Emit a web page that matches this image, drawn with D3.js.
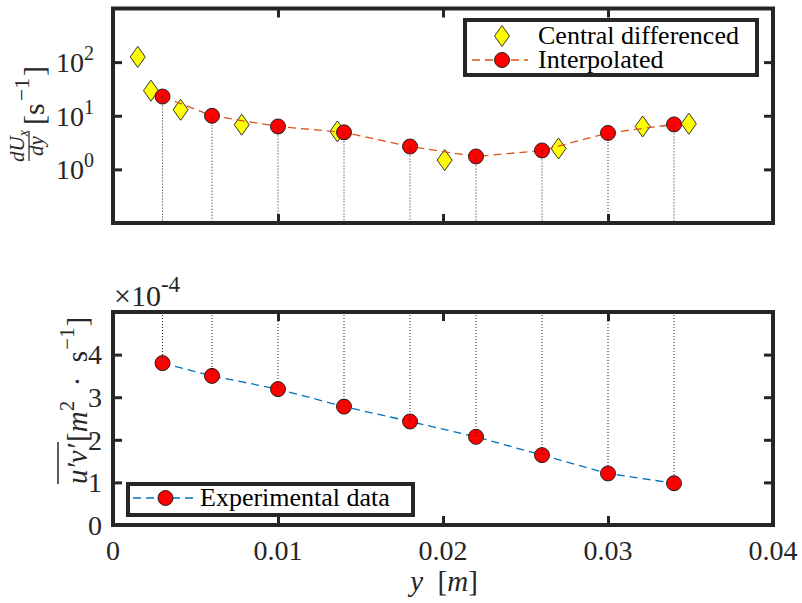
<!DOCTYPE html>
<html><head><meta charset="utf-8">
<script src="https://cdn.jsdelivr.net/npm/d3@7"></script>
<style>
body{margin:0;background:#fff}
svg{display:block;font-family:"Liberation Serif","Times New Roman",serif}
</style>
</head><body><script>
// Wall-normal positions of the interpolated / measured stations [m]
const stations = [0.003, 0.006, 0.010, 0.014, 0.018, 0.022, 0.026, 0.030, 0.034];
// Interpolated velocity gradient dUx/dy at the stations [1/s]
const gradInterp = [22.8, 10.0, 6.3, 4.9, 2.67, 1.74, 2.25, 4.78, 6.9];
// Central-difference nodes [m] and gradient values [1/s]
const cdPos = [0.0015, 0.0023, 0.0041, 0.0078, 0.0136, 0.0201, 0.0270, 0.0321, 0.0349];
const gradCentral = [125, 29.4, 12.9, 6.8, 5.1, 1.49, 2.45, 6.3, 7.1];
// Reynolds shear stress u'v' at the stations [m^2 s^-1]
const shear = [3.80e-4, 3.50e-4, 3.19e-4, 2.78e-4, 2.43e-4, 2.07e-4, 1.64e-4, 1.21e-4, 0.98e-4];

// Tick values and labels
const xTicks = [0, 0.01, 0.02, 0.03, 0.04];
const xTickLabels = ["0", "0.01", "0.02", "0.03", "0.04"];
const gradTicks = [1, 10, 100];
const gradTickExp = ["0", "1", "2"];
const shearTicks = [0, 1e-4, 2e-4, 3e-4, 4e-4];
const shearTickLabels = ["0", "1", "2", "3", "4"];

const W = 802, H = 603;
const INK = "#262626";
const ORANGE = "#D95319", BLUE = "#0072BD";

const svg = d3.select("body").append("svg").attr("width", W).attr("height", H);

const x = d3.scaleLinear().domain([0, 0.04]).range([113, 773]);
const yGrad = d3.scaleLog().domain([0.1, 1000]).range([223, 8.5]);
const yShear = d3.scaleLinear().domain([0, 5e-4]).range([525, 312]);

const diamond = "M0,-10.5L7.5,0L0,10.5L-7.5,0Z";

function ticks(gAxis) {
  gAxis.select(".domain").remove();
  gAxis.selectAll(".tick line").attr("stroke", INK).attr("stroke-width", 3);
  gAxis.selectAll(".tick text").remove();
}

function panelTicks(yScale, yVals, top, bottom) {
  const g = svg.append("g");
  g.append("g").attr("transform", `translate(0,${bottom})`)
    .call(d3.axisBottom(x).tickValues(xTicks).tickSizeInner(-9).tickSizeOuter(0)).call(ticks);
  g.append("g").attr("transform", `translate(0,${top})`)
    .call(d3.axisTop(x).tickValues(xTicks).tickSizeInner(-9).tickSizeOuter(0)).call(ticks);
  g.append("g").attr("transform", `translate(${x.range()[0]},0)`)
    .call(d3.axisLeft(yScale).tickValues(yVals).tickSizeInner(-9).tickSizeOuter(0)).call(ticks);
  g.append("g").attr("transform", `translate(${x.range()[1]},0)`)
    .call(d3.axisRight(yScale).tickValues(yVals).tickSizeInner(-9).tickSizeOuter(0)).call(ticks);
  g.append("rect")
    .attr("x", x.range()[0]).attr("y", top)
    .attr("width", x.range()[1] - x.range()[0]).attr("height", bottom - top)
    .attr("fill", "none").attr("stroke", INK).attr("stroke-width", 4);
}

/* ---------- upper panel: velocity gradient ---------- */
const top1 = yGrad.range()[1], bot1 = yGrad.range()[0];
const up = svg.append("g");

up.selectAll("path.cd").data(cdPos).join("path")
  .attr("class", "cd")
  .attr("d", diamond)
  .attr("transform", (d, i) => `translate(${x(d)},${yGrad(gradCentral[i])})`)
  .attr("fill", "#FFFF00").attr("stroke", "#333").attr("stroke-width", 1);

up.append("path")
  .datum(stations)
  .attr("d", d3.line().x(d => x(d)).y((d, i) => yGrad(gradInterp[i])))
  .attr("fill", "none").attr("stroke", ORANGE).attr("stroke-width", 1.3)
  .attr("stroke-dasharray", "8,5");

up.selectAll("circle").data(stations).join("circle")
  .attr("cx", d => x(d)).attr("cy", (d, i) => yGrad(gradInterp[i])).attr("r", 7.5)
  .attr("fill", "#FF0000").attr("stroke", "#222").attr("stroke-width", 1);

up.selectAll("line.stem").data(stations).join("line")
  .attr("class", "stem")
  .attr("x1", d => x(d)).attr("x2", d => x(d))
  .attr("y1", (d, i) => yGrad(gradInterp[i])).attr("y2", bot1)
  .attr("stroke", "#222").attr("stroke-width", 1).attr("stroke-dasharray", "1,2");

panelTicks(yGrad, gradTicks, top1, bot1);

// log tick labels 10^n
const gl = svg.append("g").attr("font-size", 28).attr("fill", INK).attr("text-anchor", "end");
gradTicks.forEach((t, i) => {
  const tx = gl.append("text").attr("x", 94).attr("y", yGrad(t)).attr("dy", "0.35em");
  tx.append("tspan").text("10");
  tx.append("tspan").attr("font-size", 20).attr("dy", "-0.6em").text(gradTickExp[i]);
});

// y label: dUx/dy [s^-1]
{
  const g = svg.append("g").attr("transform", "translate(38,115) rotate(-90)").attr("fill", INK);
  const fs = 21;
  const num = g.append("text").attr("font-size", fs).attr("text-anchor", "middle")
    .attr("x", -31).attr("y", -14);
  num.append("tspan").attr("font-style", "italic").text("dU");
  num.append("tspan").attr("font-style", "italic").attr("font-size", 14).attr("dy", 4).text("x");
  g.append("line").attr("x1", -46).attr("x2", -16).attr("y1", -9).attr("y2", -9)
    .attr("stroke", INK).attr("stroke-width", 1.2);
  g.append("text").attr("font-size", fs).attr("text-anchor", "middle")
    .attr("x", -31).attr("y", 5).attr("font-style", "italic").text("dy");
  const br = g.append("text").attr("font-size", 30).attr("x", -10).attr("y", 6);
  br.append("tspan").text("[s");
  br.append("tspan").attr("font-size", 22).attr("dx", 2).attr("dy", -15).text("\u22121");
  br.append("tspan").attr("dx", 2).attr("dy", 15).text("]");
}

// legend of upper panel
{
  const g = svg.append("g");
  g.append("rect").attr("x", 465).attr("y", 20).attr("width", 292).attr("height", 55)
    .attr("fill", "#fff").attr("stroke", INK).attr("stroke-width", 4);
  g.append("path").attr("d", diamond).attr("transform", "translate(502,36)")
    .attr("fill", "#FFFF00").attr("stroke", "#333").attr("stroke-width", 1);
  g.append("line").attr("x1", 472).attr("x2", 528).attr("y1", 60).attr("y2", 60)
    .attr("stroke", ORANGE).attr("stroke-width", 1.3).attr("stroke-dasharray", "8,5");
  g.append("circle").attr("cx", 502).attr("cy", 60).attr("r", 7.5)
    .attr("fill", "#FF0000").attr("stroke", "#222").attr("stroke-width", 1);
  g.append("text").attr("x", 538).attr("y", 44).attr("font-size", 26).attr("fill", "#000")
    .text("Central differenced");
  g.append("text").attr("x", 538).attr("y", 68).attr("font-size", 26).attr("fill", "#000")
    .text("Interpolated");
}

/* ---------- lower panel: Reynolds shear stress ---------- */
const top2 = yShear.range()[1], bot2 = yShear.range()[0];
const lo = svg.append("g");

lo.append("path")
  .datum(stations)
  .attr("d", d3.line().x(d => x(d)).y((d, i) => yShear(shear[i])))
  .attr("fill", "none").attr("stroke", BLUE).attr("stroke-width", 1.3)
  .attr("stroke-dasharray", "8,5");

lo.selectAll("circle").data(stations).join("circle")
  .attr("cx", d => x(d)).attr("cy", (d, i) => yShear(shear[i])).attr("r", 7.5)
  .attr("fill", "#FF0000").attr("stroke", "#222").attr("stroke-width", 1);

lo.selectAll("line.stem").data(stations).join("line")
  .attr("class", "stem")
  .attr("x1", d => x(d)).attr("x2", d => x(d))
  .attr("y1", top2).attr("y2", (d, i) => yShear(shear[i]))
  .attr("stroke", "#222").attr("stroke-width", 1).attr("stroke-dasharray", "1,2");

panelTicks(yShear, shearTicks, top2, bot2);

// tick labels
const tl = svg.append("g").attr("font-size", 28).attr("fill", INK);
tl.selectAll("text.xt").data(xTicks).join("text")
  .attr("class", "xt").attr("text-anchor", "middle")
  .attr("x", d => x(d)).attr("y", 550).attr("dy", "0.35em")
  .text((d, i) => xTickLabels[i]);
tl.selectAll("text.yt").data(shearTicks).join("text")
  .attr("class", "yt").attr("text-anchor", "end")
  .attr("x", 102).attr("y", d => yShear(d)).attr("dy", "0.35em")
  .text((d, i) => shearTickLabels[i]);

// exponent multiplier
{
  const t = tl.append("text").attr("x", 114).attr("y", 306).attr("font-size", 30);
  t.append("tspan").text("\u00d710");
  t.append("tspan").attr("font-size", 23).attr("dy", -14).text("-4");
}

// x label
{
  const t = svg.append("text").attr("x", 444).attr("y", 591).attr("font-size", 29)
    .attr("fill", INK).attr("text-anchor", "middle");
  t.append("tspan").attr("font-style", "italic").text("y");
  t.append("tspan").text("\u2002[");
  t.append("tspan").attr("font-style", "italic").text("m");
  t.append("tspan").text("]");
}

// y label: overline(u'v') [m^2 · s^-1]
{
  const g = svg.append("g").attr("transform", "translate(87,484) rotate(-90)").attr("fill", INK);
  const a = g.append("text").attr("font-size", 29).attr("font-style", "italic").attr("x", 0).attr("y", 0)
    .text("u\u2032v\u2032");
  const w = a.node().getComputedTextLength();
  g.append("line").attr("x1", 0).attr("x2", w + 2).attr("y1", -29).attr("y2", -29)
    .attr("stroke", INK).attr("stroke-width", 1.5);
  const b = g.append("text").attr("font-size", 29).attr("x", w + 2).attr("y", 0);
  b.append("tspan").text("[");
  b.append("tspan").attr("font-style", "italic").text("m");
  b.append("tspan").attr("font-size", 21).attr("dy", -13).text("2");
  b.append("tspan").attr("dy", 13).text("\u2002\u00b7\u2002s");
  b.append("tspan").attr("font-size", 21).attr("dx", 1).attr("dy", -13).text("\u22121");
  b.append("tspan").attr("dx", 1).attr("dy", 13).text("]");
}

// legend of lower panel
{
  const g = svg.append("g");
  g.append("rect").attr("x", 128).attr("y", 484).attr("width", 285).attr("height", 31)
    .attr("fill", "#fff").attr("stroke", INK).attr("stroke-width", 4);
  g.append("line").attr("x1", 133).attr("x2", 193).attr("y1", 498).attr("y2", 498)
    .attr("stroke", BLUE).attr("stroke-width", 1.3).attr("stroke-dasharray", "8,5");
  g.append("circle").attr("cx", 165.5).attr("cy", 498).attr("r", 7.5)
    .attr("fill", "#FF0000").attr("stroke", "#222").attr("stroke-width", 1);
  g.append("text").attr("x", 200).attr("y", 506).attr("font-size", 26).attr("fill", "#000")
    .text("Experimental data");
}
</script></body></html>
